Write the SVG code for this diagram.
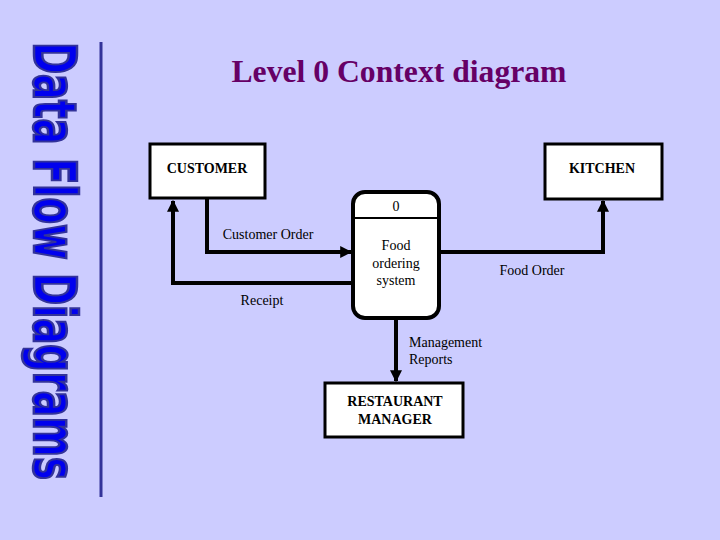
<svg xmlns="http://www.w3.org/2000/svg" width="720" height="540" viewBox="0 0 720 540">
<defs>
<style>
.box{fill:#fff;stroke:#000;stroke-width:3}
.ent{font-family:"Liberation Serif",serif;font-weight:bold;font-size:14px;text-anchor:middle;fill:#000}
.lbl{font-family:"Liberation Serif",serif;font-size:14px;fill:#000}
.flow{fill:none;stroke:#000;stroke-width:4}
</style>
<marker id="ah" viewBox="0 0 10 10" refX="9" refY="5" markerWidth="3" markerHeight="3" orient="auto" markerUnits="strokeWidth">
<path d="M0,0 L10,5 L0,10 z" fill="#000"/>
</marker>
</defs>
<rect width="720" height="540" fill="#ccccff"/>
<g id="side-title">
<text transform="translate(34,42) rotate(90)" font-family="'Liberation Sans Narrow','DejaVu Sans Condensed',sans-serif" font-weight="bold" font-size="59" fill="#0000ee" stroke="#333399" stroke-width="2.5" textLength="438" lengthAdjust="spacingAndGlyphs">Data Flow Diagrams</text>
<line x1="101" y1="42" x2="101" y2="497" stroke="#333399" stroke-width="3"/>
</g>
<text id="title" x="399" y="82" font-family="'Liberation Serif',serif" font-weight="bold" font-size="31" fill="#660066" text-anchor="middle" textLength="335" lengthAdjust="spacingAndGlyphs">Level 0 Context diagram</text>
<g id="connectors">
<path class="flow" d="M207,199 V252 H351" marker-end="url(#ah)"/>
<path class="flow" d="M353,283 H173 V201" marker-end="url(#ah)"/>
<path class="flow" d="M439,252 H603 V201" marker-end="url(#ah)"/>
<path class="flow" d="M396,318 V381" marker-end="url(#ah)"/>
<text class="lbl" x="268" y="239" text-anchor="middle">Customer Order</text>
<text class="lbl" x="262" y="305" text-anchor="middle">Receipt</text>
<text class="lbl" x="532" y="275" text-anchor="middle">Food Order</text>
<text class="lbl" x="409" y="347">Management</text>
<text class="lbl" x="409" y="364">Reports</text>
</g>
<g id="customer">
<rect class="box" x="150" y="144" width="115" height="54"/>
<text class="ent" x="207" y="173">CUSTOMER</text>
</g>
<g id="kitchen">
<rect class="box" x="545" y="144" width="117" height="55"/>
<text class="ent" x="602" y="173">KITCHEN</text>
</g>
<g id="process">
<rect x="353" y="192" width="86" height="126" rx="12" ry="12" fill="#fff" stroke="#000" stroke-width="4"/>
<line x1="353" y1="218" x2="439" y2="218" stroke="#000" stroke-width="2"/>
<text class="lbl" x="396" y="211" text-anchor="middle">0</text>
<text class="lbl" x="396" y="250" text-anchor="middle">Food</text>
<text class="lbl" x="396" y="268" text-anchor="middle">ordering</text>
<text class="lbl" x="396" y="285" text-anchor="middle">system</text>
</g>
<g id="manager">
<rect class="box" x="325" y="383" width="138" height="54"/>
<text class="ent" x="395" y="406">RESTAURANT</text>
<text class="ent" x="395" y="424">MANAGER</text>
</g>
</svg>
